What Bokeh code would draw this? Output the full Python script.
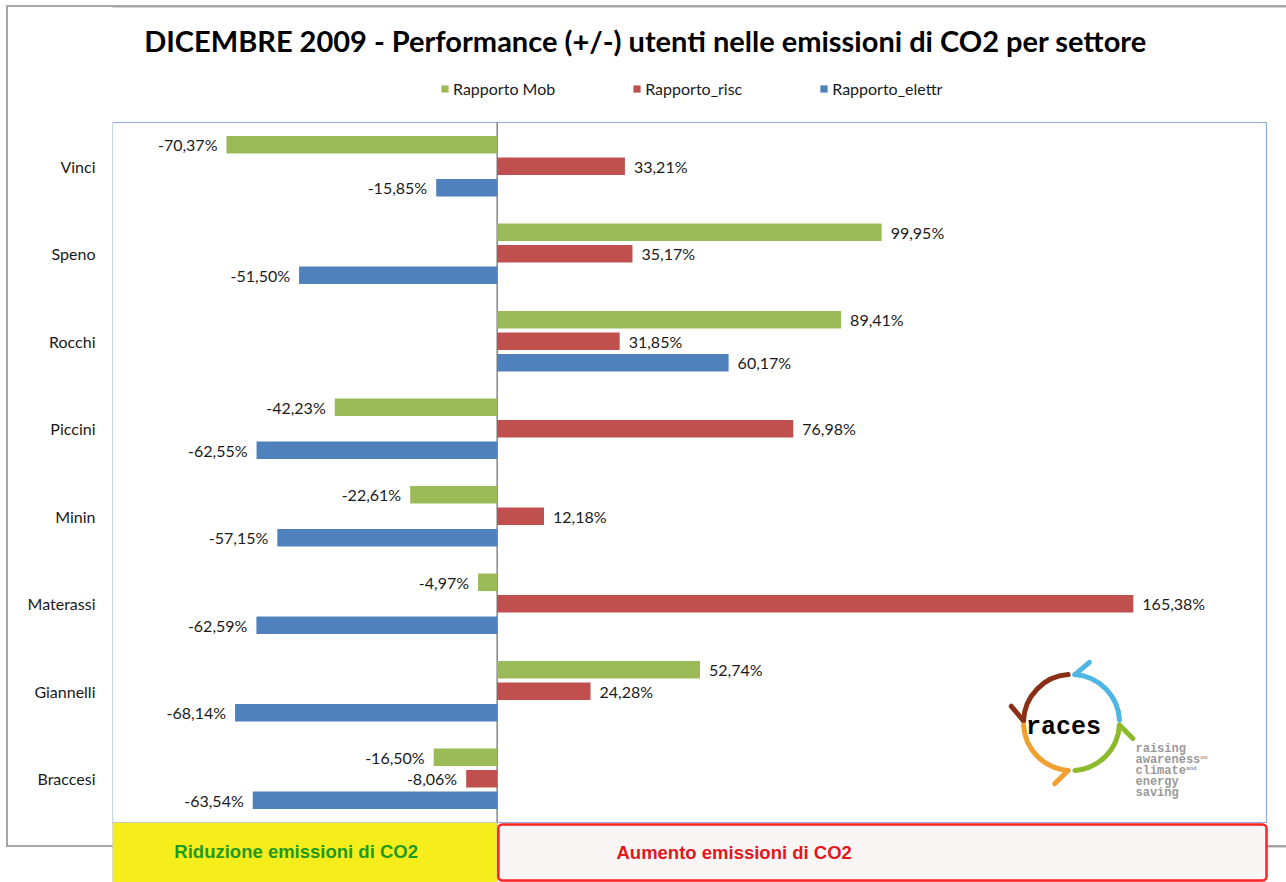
import math
from bokeh.plotting import figure
from bokeh.models import (ColumnDataSource, Range1d, FixedTicker, BoxAnnotation,
                          Label, Legend, LegendItem)
from bokeh.transform import dodge
from bokeh.core.properties import value
from bokeh.embed import file_html
from bokeh.resources import INLINE

# ---------------- data ----------------
title_text = "DICEMBRE 2009 - Performance (+/-) utenti nelle emissioni di CO2 per settore"
categories = ["Vinci", "Speno", "Rocchi", "Piccini", "Minin", "Materassi", "Giannelli", "Braccesi"]
series_names = ["Rapporto Mob", "Rapporto_risc", "Rapporto_elettr"]
rapporto_mob = [-70.37, 99.95, 89.41, -42.23, -22.61, -4.97, 52.74, -16.50]
rapporto_risc = [33.21, 35.17, 31.85, 76.98, 12.18, 165.38, 24.28, -8.06]
rapporto_elettr = [-15.85, -51.50, 60.17, -62.55, -57.15, -62.59, -68.14, -63.54]
x_min, x_max = -100, 200
left_box_text = "Riduzione emissioni di CO2"
right_box_text = "Aumento emissioni di CO2"

colors = ["#9BBB59", "#C0504D", "#4F81BD"]
offsets = [0.245, 0.0, -0.245]
series_values = [rapporto_mob, rapporto_risc, rapporto_elettr]
n_cat = len(categories)
cat_pos = [n_cat - 0.5 - i for i in range(n_cat)]   # Vinci at the top


def fmt(v):
    return f"{v:.2f}%".replace(".", ",")


# ---------------- geometry (pixels) ----------------
W, H = 1286, 882
ML = 112                   # left border holding the category axis
PA_TOP, PA_BOT = 122, 822  # plot area, canvas pixels
PA_RIGHT = 1266
ZERO_PX = 496
px_x = (PA_RIGHT - ML) / (x_max - x_min)
px_y = (PA_BOT - PA_TOP) / n_cat

x_range = Range1d(x_min, x_max + (W - PA_RIGHT) / px_x)
y_range = Range1d(-(H - PA_BOT) / px_y, n_cat + PA_TOP / px_y)

p = figure(width=W, height=H, x_range=x_range, y_range=y_range,
           x_axis_location=None, title=None,
           output_backend="svg", toolbar_location=None,
           min_border_left=ML, min_border_right=0, min_border_top=0, min_border_bottom=0)

p.xgrid.visible = False
p.ygrid.visible = False
p.yaxis.ticker = FixedTicker(ticks=cat_pos, minor_ticks=[])
p.yaxis.major_label_overrides = {pos: name for pos, name in zip(cat_pos, categories)}
p.yaxis.axis_line_color = None
p.yaxis.major_tick_line_color = None
p.yaxis.minor_tick_line_color = None
p.yaxis.major_tick_in = 0
p.yaxis.major_tick_out = 0
p.yaxis.major_label_standoff = 17
p.yaxis.major_label_text_font = "Lato"
p.yaxis.major_label_text_font_size = "16px"
p.yaxis.major_label_text_color = "#1a1a1a"

p.outline_line_color = None
p.background_fill_color = None
p.border_fill_color = None
# thin grey outer chart border, painted behind the (transparent) canvas
p.styles = {
    "background": ("linear-gradient(#A6A6A6,#A6A6A6) 6px 6px / 2px 841px no-repeat, "
                   "linear-gradient(#A6A6A6,#A6A6A6) 6px 5px / 100% 2px no-repeat, "
                   "linear-gradient(#A6A6A6,#A6A6A6) 6px 845px / 100% 2px no-repeat, white"),
}
outer = BoxAnnotation(left=6 - ML, right=W + 20 - ML, top=H - 6, bottom=H - 846,
                      left_units="screen", right_units="screen",
                      top_units="screen", bottom_units="screen",
                      fill_color=None, line_color="#A6A6A6", line_alpha=1, line_width=2,
                      level="underlay")
p.add_layout(outer)

# plot area border
p.add_layout(BoxAnnotation(left=x_min, right=x_max, bottom=0, top=n_cat,
                           fill_color=None, line_color="#8FAADC", line_alpha=1, line_width=1.2,
                           level="underlay"))
# zero axis line
p.segment(x0=[0], y0=[0], x1=[0], y1=[n_cat], line_color="#868686", line_width=1.5)

items = []
for name, vals, col, off in zip(series_names, series_values, colors, offsets):
    src = ColumnDataSource(dict(
        ypos=cat_pos, val=vals,
        label=[fmt(v) for v in vals],
        align=["left" if v >= 0 else "right" for v in vals],
        xoff=[9 if v >= 0 else -9 for v in vals],
    ))
    r = p.hbar(y=dodge("ypos", off), left=0, right="val", height=0.2,
               source=src, fill_color=col, line_color=None)
    p.text(x="val", y=dodge("ypos", off), text="label", source=src,
           text_align="align", x_offset="xoff", text_baseline="middle",
           text_font=value("Lato"), text_font_size="16px", text_color="#1a1a1a")
    items.append(LegendItem(label=name, renderers=[r]))

legend = Legend(items=items, orientation="horizontal", location=(440 - ML, H - 98),
                glyph_width=9, glyph_height=9, label_standoff=4, spacing=77,
                padding=0, margin=0, border_line_color=None, background_fill_alpha=0,
                label_text_font="Lato", label_text_font_size="16px", label_text_color="#1a1a1a",
                label_height=16)
p.add_layout(legend)

# title
p.add_layout(Label(x=645 - ML, y=H - 40, x_units="screen", y_units="screen", text=title_text,
                   text_align="center", text_baseline="middle", text_font="Lato",
                   text_font_style="bold", text_font_size="29px", text_color="#000000"))

# ---------------- bottom explanation boxes ----------------
y_bottom = y_range.start
inset = 2 / px_y
p.add_layout(BoxAnnotation(left=x_min, right=0, top=0, bottom=y_bottom,
                           fill_color="#F5EE1C", fill_alpha=1, line_color="#C4C4B4",
                           line_alpha=1, line_width=1, level="overlay"))
p.add_layout(BoxAnnotation(left=0.3, right=x_max, top=-inset, bottom=y_bottom + inset,
                           fill_color="#FBF6F6", fill_alpha=1, line_color="#FF2222",
                           line_alpha=1, line_width=2.5, border_radius=4, level="overlay"))
p.add_layout(Label(x=(295 - ZERO_PX) / px_x, y=-29 / px_y, text=left_box_text,
                   text_align="center", text_baseline="middle", text_font="Liberation Sans",
                   text_font_style="bold", text_font_size="18.5px", text_color="#1E9A1E",
                   level="overlay"))
p.add_layout(Label(x=(733 - ZERO_PX) / px_x, y=-30 / px_y, text=right_box_text,
                   text_align="center", text_baseline="middle", text_font="Liberation Sans",
                   text_font_style="bold", text_font_size="18.5px", text_color="#E3161E",
                   level="overlay"))

# ---------------- races logo (decoration) ----------------
logo_cx = (1071 - ML) / px_x + x_min
logo_cy = (PA_BOT - 722) / px_y
logo_r = 48
arcs = [  # colour, start, end (degrees), apex angle, tick direction (deg)
    ("#8B3018", 94, 178, 178, 130),
    ("#4DB6E2", 3, 86, 86, 40),
    ("#8DBA2A", -86, -3, -3, -45),
    ("#F0A030", -177, -94, -94, -135),
]
for col, a0, a1, apex, tdir in arcs:
    p.arc(x=logo_cx, y=logo_cy, radius=logo_r, radius_units="screen",
          start_angle=math.radians(a0), end_angle=math.radians(a1),
          line_color=col, line_width=5, line_cap="round")
    ax = logo_cx + logo_r * math.cos(math.radians(apex)) / px_x
    ay = logo_cy + logo_r * math.sin(math.radians(apex)) / px_y
    p.ray(x=ax, y=ay, length=19, length_units="screen", angle=math.radians(tdir),
          line_color=col, line_width=5, line_cap="round")

p.text(x=logo_cx - 8 / px_x, y=logo_cy - 5 / px_y, text=["races"],
       text_align="center", text_baseline="middle", text_font=value("Liberation Mono"),
       text_font_style="bold", text_font_size="25px", text_color="#000000")
logo_words = ["raising", "awareness", "climate", "energy", "saving"]
for i, w in enumerate(logo_words):
    p.text(x=(1135 - ML) / px_x + x_min, y=(PA_BOT - (748 + 11 * i)) / px_y, text=[w],
           text_align="left", text_baseline="middle", text_font=value("Liberation Mono"),
           text_font_style="bold", text_font_size="12px", text_color="#9A9A9A")
for w, i, n in [("on", 1, 9), ("and", 2, 7)]:
    p.text(x=(1135 + 7.2 * n - ML) / px_x + x_min, y=(PA_BOT - (746 + 11 * i)) / px_y,
           text=[w], text_align="left", text_baseline="middle",
           text_font=value("Liberation Mono"), text_font_style="bold",
           text_font_size="6px", text_color="#9A9A9A")

open("out.html", "w").write(file_html(p, INLINE))
